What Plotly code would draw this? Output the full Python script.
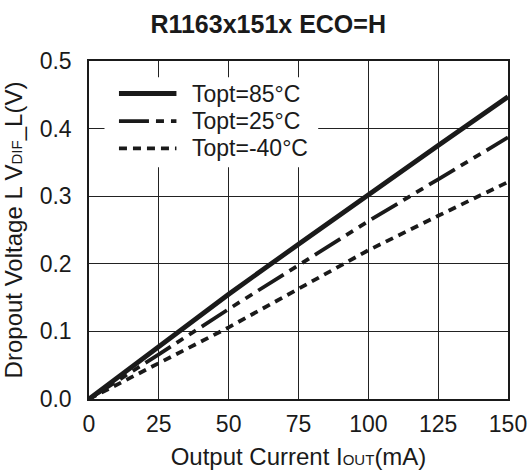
import plotly.graph_objects as go

# Data
current_ma = [0, 10, 25, 50, 75, 100, 125, 150]
v_85 = [0, 0.031, 0.078, 0.155, 0.229, 0.303, 0.375, 0.447]
v_25 = [0, 0.026, 0.066, 0.133, 0.198, 0.263, 0.325, 0.387]
v_m40 = [0, 0.021, 0.053, 0.106, 0.163, 0.220, 0.271, 0.321]

series_names = ["Topt=85°C", "Topt=25°C", "Topt=-40°C"]
series_values = [v_85, v_25, v_m40]
series_dash = ["solid", "30px,7px,8px,7px,8px,7px", "8px,6px"]
series_width = [4.8, 3.8, 3.8]

x_ticks = [0, 25, 50, 75, 100, 125, 150]
y_ticks = [0.0, 0.1, 0.2, 0.3, 0.4, 0.5]
y_tick_text = ["0.0", "0.1", "0.2", "0.3", "0.4", "0.5"]

FONT = "Liberation Sans, Arial, Helvetica, sans-serif"
INK = "#1a1a1a"
GRID = "#222222"

fig = go.Figure()
# draw coolest first so the 85°C line is on top
for name, vals, dash, w in reversed(list(zip(series_names, series_values, series_dash, series_width))):
    fig.add_trace(go.Scatter(
        x=current_ma, y=vals, mode="lines", name=name,
        line=dict(color=INK, width=w, dash=dash),
        showlegend=False, hoverinfo="skip",
    ))

# custom legend (white box hiding the grid, long line samples)
leg_x0, leg_x1, leg_y0, leg_y1 = 0.037, 0.547, 0.686, 0.952
sample_x0, sample_x1, text_x = 0.0715, 0.2087, 0.2404
row_y = [0.9038, 0.8220, 0.7414]
fig.add_shape(type="rect", xref="paper", yref="paper",
              x0=leg_x0, x1=leg_x1, y0=leg_y0, y1=leg_y1,
              fillcolor="white", line=dict(width=0), layer="above")
for name, dash, w, ry in zip(series_names, series_dash, series_width, row_y):
    fig.add_shape(type="line", xref="paper", yref="paper",
                  x0=sample_x0, x1=sample_x1, y0=ry, y1=ry,
                  line=dict(color=INK, width=w, dash=dash), layer="above")
    fig.add_annotation(xref="paper", yref="paper", x=text_x, y=ry,
                       xanchor="left", yanchor="middle", text=name,
                       showarrow=False, font=dict(family=FONT, size=23, color=INK))

fig.update_layout(
    width=529, height=470,
    margin=dict(l=89, r=21, t=61, b=71, autoexpand=False),
    paper_bgcolor="white", plot_bgcolor="white",
    font=dict(family=FONT, color=INK),
    title=dict(text="<b>R1163x151x ECO=H</b>", x=0.507, xanchor="center",
               xref="container", yref="container", y=0.949, yanchor="middle",
               automargin=False,
               font=dict(family=FONT, size=25, color=INK)),
    xaxis=dict(
        range=[0, 150], tickmode="array", tickvals=x_ticks,
        ticks="outside", ticklen=4, tickcolor="rgba(0,0,0,0)",
        showgrid=True, gridcolor=GRID, gridwidth=1.2,
        showline=True, linecolor=INK, linewidth=1.5, mirror=True,
        zeroline=False, automargin=False,
        tickfont=dict(family=FONT, size=23, color=INK),
        title=dict(text="Output Current I<span style='font-size:15px'>OUT</span>(mA)",
                   font=dict(family=FONT, size=24, color=INK), standoff=13),
    ),
    yaxis=dict(
        range=[0, 0.5], tickmode="array", tickvals=y_ticks, ticktext=y_tick_text,
        ticks="outside", ticklen=11, tickcolor="rgba(0,0,0,0)",
        showgrid=True, gridcolor=GRID, gridwidth=1.2,
        showline=True, linecolor=INK, linewidth=1.5, mirror=True,
        zeroline=False, automargin=False,
        tickfont=dict(family=FONT, size=23, color=INK),
        title=dict(text="Dropout Voltage L V<span style='font-size:15px'>DIF</span>_L(V)",
                   font=dict(family=FONT, size=24, color=INK), standoff=10),
    ),
)

fig.write_html("out.html", config={"displayModeBar": False},
               post_script="document.body.style.margin='0';")
